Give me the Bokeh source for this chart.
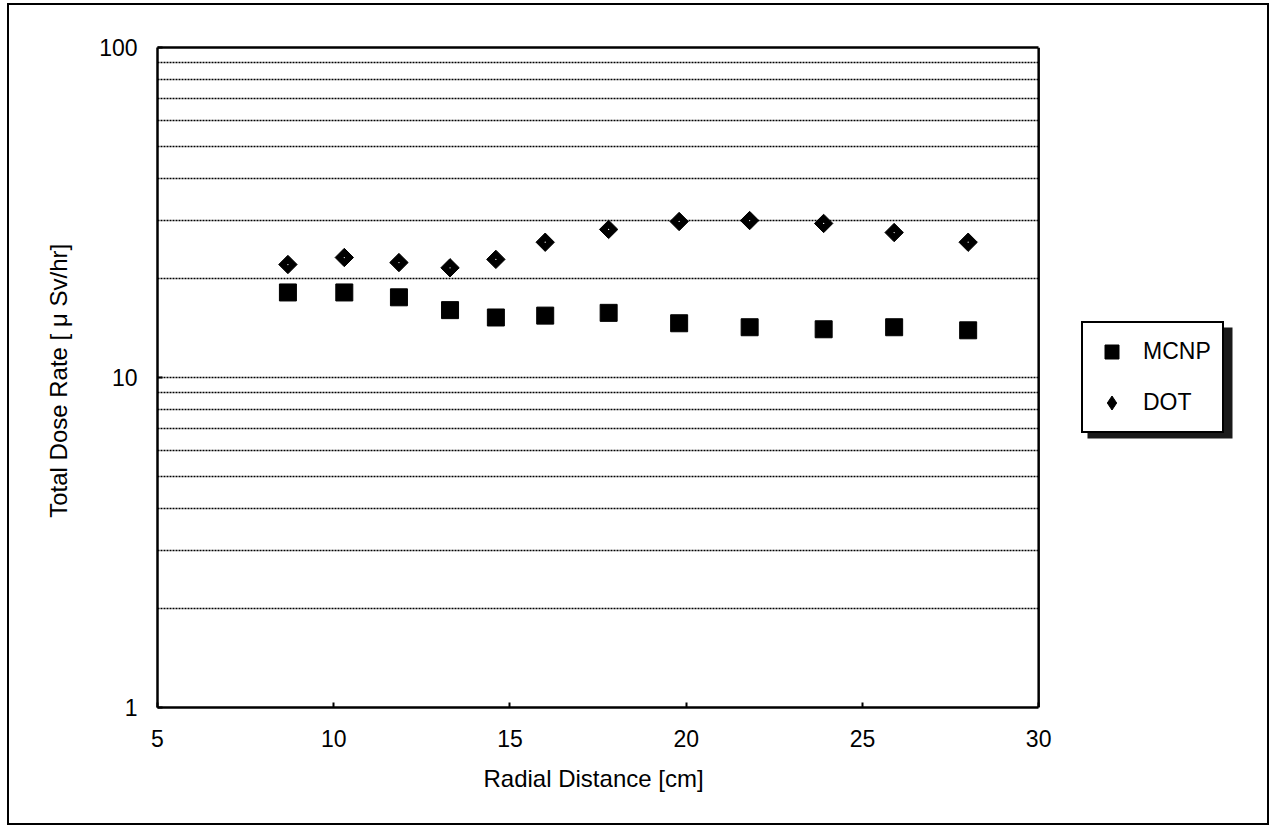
import numpy as np
from bokeh.plotting import figure
from bokeh.models import (FixedTicker, Legend, LegendItem, ColumnDataSource,
                          LinearAxis, Span, BoxAnnotation, Title)
from bokeh.embed import file_html
from bokeh.resources import INLINE

# ---- data ----
radial_cm = [8.7, 10.3, 11.85, 13.3, 14.6, 16.0, 17.8, 19.8, 21.8, 23.9, 25.9, 28.0]
mcnp = [18.1, 18.1, 17.5, 16.0, 15.2, 15.4, 15.7, 14.6, 14.2, 14.0, 14.2, 13.9]
dot = [22.0, 23.1, 22.3, 21.5, 22.8, 25.7, 28.1, 29.7, 29.9, 29.3, 27.5, 25.7]
x_ticks = [5, 10, 15, 20, 25, 30]
y_ticks = [1, 10, 100]
y_minor = [2, 3, 4, 5, 6, 7, 8, 9, 20, 30, 40, 50, 60, 70, 80, 90]
X_MIN, X_MAX = 5, 30
x_title = "Radial Distance [cm]"
y_title = "Total Dose Rate  [ \u03bc Sv/hr]"

FONT = "Liberation Sans"

# the frame extends to the right edge so that the legend (outside the axes box) is not clipped
FIG_W = 1262
FRAME_LEFT = 148
AXES_W = 878
FRAME_W = FIG_W - 4 - FRAME_LEFT
x_end = X_MIN + (X_MAX - X_MIN) * FRAME_W / AXES_W

p = figure(width=FIG_W, height=822, x_range=(X_MIN, x_end), y_range=(1, 100),
           y_axis_type="log", output_backend="svg", toolbar_location=None,
           min_border_left=FRAME_LEFT, min_border_right=0, min_border_top=42,
           min_border_bottom=120)
p.styles = {"border": "2px solid black", "margin-left": "7px", "margin-top": "3px"}

p.outline_line_color = None
p.background_fill_color = "white"
p.border_fill_color = "white"

# axes
p.xaxis.ticker = FixedTicker(ticks=x_ticks)
p.xaxis.bounds = (X_MIN, X_MAX)
p.yaxis.ticker = FixedTicker(ticks=y_ticks, minor_ticks=y_minor)
for ax in (p.xaxis[0], p.yaxis[0]):
    ax.axis_line_color = "black"
    ax.axis_line_width = 2.5
    ax.major_tick_in = 5
    ax.major_tick_out = 0
    ax.major_tick_line_width = 2
    ax.minor_tick_in = 0
    ax.minor_tick_out = 0
    ax.major_label_text_font = FONT
    ax.major_label_text_font_size = "23px"
    ax.major_label_text_color = "black"
    ax.axis_label_text_font = FONT
    ax.axis_label_text_font_size = "24px"
    ax.axis_label_text_font_style = "normal"
    ax.axis_label_text_color = "black"
p.xaxis.major_label_standoff = 22
p.yaxis.major_label_standoff = 20
p.yaxis.major_label_overrides = {1: "1", 10: "10", 100: "100"}
p.yaxis.axis_label = y_title
p.yaxis.axis_label_standoff = 24

# x-axis title, centred under the axes box (not under the wider frame)
xt = Title(text=x_title, align="left", offset=326, standoff=26,
           text_font=FONT, text_font_size="24px", text_font_style="normal",
           text_color="black")
p.add_layout(xt, "below")

# top border of the axes box
top = LinearAxis(ticker=FixedTicker(ticks=[]), bounds=(X_MIN, X_MAX),
                 axis_line_width=2.5, axis_line_color="black",
                 major_tick_in=0, major_tick_out=0, minor_tick_in=0, minor_tick_out=0)
p.add_layout(top, "above")

# grid
p.xgrid.grid_line_color = None
p.ygrid.grid_line_color = "black"
p.ygrid.grid_line_dash = "2 1"
p.ygrid.grid_line_width = 1.6
p.ygrid.minor_grid_line_color = "black"
p.ygrid.minor_grid_line_dash = "2 1"
p.ygrid.minor_grid_line_width = 1.6

# blank out the area right of the axes box, then draw the right border
p.add_layout(BoxAnnotation(left=X_MAX, fill_color="white", fill_alpha=1.0,
                           line_color=None, level="underlay"))
p.add_layout(Span(location=X_MAX, dimension="height", line_color="black",
                  line_width=2.5))

src = ColumnDataSource(dict(x=radial_cm, mcnp=mcnp, dot=dot))
r1 = p.scatter("x", "mcnp", source=src, marker="square", size=17,
               fill_color="black", line_color="black")
r2 = p.scatter("x", "dot", source=src, marker="square", size=13, angle=np.pi / 4,
               fill_color="black", line_color="black")
p.scatter("x", "dot", source=src, marker="dot", size=5, line_color="white",
          fill_color="white")
# legend-only glyph for the diamond symbol (draws nothing in the plot)
r2_leg = p.scatter(x=[np.nan], y=[np.nan], marker="diamond", size=18,
                   fill_color="black", line_color="black")

# legend shadow (canvas pixel units)
p.add_layout(BoxAnnotation(left=1076, right=1221, top=320, bottom=431,
                           left_units="canvas", right_units="canvas",
                           top_units="canvas", bottom_units="canvas",
                           fill_color="#1a1a1a", fill_alpha=1.0, line_color=None,
                           level="annotation"))

lg = Legend(items=[LegendItem(label="MCNP", renderers=[r1]),
                   LegendItem(label="DOT", renderers=[r2_leg])],
            location=(924, 274))
lg.label_text_font = FONT
lg.label_text_font_size = "23px"
lg.label_text_color = "black"
lg.border_line_color = "black"
lg.border_line_width = 2
lg.border_line_alpha = 1.0
lg.background_fill_color = "white"
lg.background_fill_alpha = 1.0
lg.padding = 11
lg.spacing = 16
lg.margin = 0
lg.glyph_width = 35
lg.glyph_height = 35
lg.label_height = 35
lg.label_standoff = 14
p.add_layout(lg, "center")

open("out.html", "w").write(file_html(p, INLINE))
